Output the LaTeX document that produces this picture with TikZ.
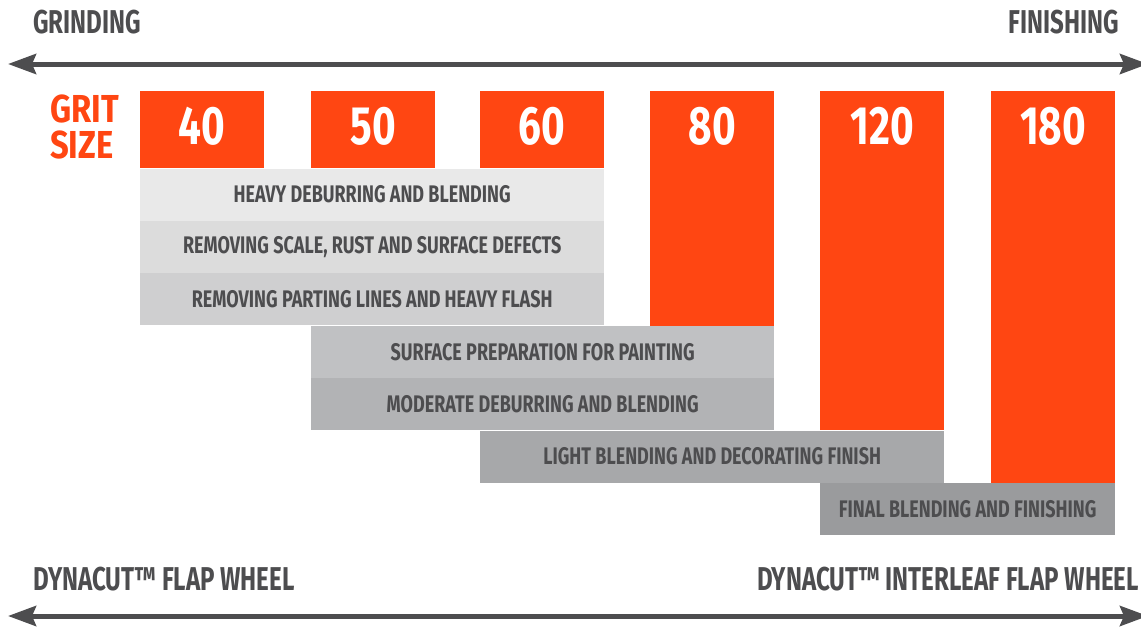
\documentclass[tikz,border=0pt]{standalone}
\usepackage{fontspec}
\setmainfont{Fira Sans}[FakeStretch=0.75]
\newfontfamily\headfont{Fira Sans}[FakeStretch=0.73]
\newfontfamily\gritfont{Fira Sans}[FakeStretch=0.84]
\usetikzlibrary{arrows.meta,backgrounds}
\definecolor{gritorange}{HTML}{FF4612}
\definecolor{darktext}{HTML}{4D4D4F}
\definecolor{barA}{HTML}{E9E9E9}
\definecolor{barB}{HTML}{DCDCDC}
\definecolor{barC}{HTML}{CFCFD0}
\definecolor{barD}{HTML}{C0C1C3}
\definecolor{barE}{HTML}{B2B3B5}
\definecolor{barF}{HTML}{A7A8AA}
\definecolor{barG}{HTML}{9A9B9D}
\begin{document}
\begin{tikzpicture}[x=1pt, y=-1pt,
  grit/.style={fill=gritorange, text=white, font=\fontsize{54}{54}\selectfont\bfseries, text depth=8pt, minimum width=124pt, minimum height=77pt, inner sep=0pt, anchor=north west},
  task/.style={minimum height=52pt, inner sep=0pt, anchor=north west, text=darktext, font=\fontsize{24}{24}\selectfont\bfseries},
  heading/.style={inner sep=0pt, text=darktext, font=\headfont\fontsize{33}{33}\selectfont\bfseries},
  gritlabel/.style={inner sep=0pt, anchor=base west, text=gritorange, font=\gritfont\fontsize{39}{39}\selectfont\bfseries},
  flow/.style={line width=5pt, draw=darktext, {Stealth[length=28pt, width=20pt, inset=4pt]}-{Stealth[length=28pt, width=20pt, inset=4pt]}}]
\useasboundingbox (0,0) rectangle (1141,627);
\node[heading, anchor=base west] (grinding) at (33,33) {GRINDING};
\node[heading, anchor=base east] (finishing) at (1119,33) {FINISHING};
\coordinate (topleft) at (8,64);
\coordinate (topright) at (1148,64);
\draw[flow] (topleft) -- (topright);
\node[gritlabel] (gritA) at (50,122) {GRIT};
\node[gritlabel] (gritB) at (50,158) {SIZE};
\node[grit] (g40) at (140,91) {40};
\node[grit] (g50) at (311,91) {50};
\node[grit] (g60) at (480,91) {60};
\node[grit] (g80) at (650,91) {80};
\node[grit] (g120) at (820,91) {120};
\node[grit] (g180) at (991,91) {180};
\node[task, fill=barA, minimum width=464pt] (heavy) at (g40.south west) {HEAVY DEBURRING AND BLENDING};
\node[task, fill=barB, minimum width=464pt] (scale) at (heavy.south west) {REMOVING SCALE, RUST AND SURFACE DEFECTS};
\node[task, fill=barC, minimum width=464pt] (parting) at (scale.south west) {REMOVING PARTING LINES AND HEAVY FLASH};
\node[task, fill=barD, minimum width=463pt] (surface) at (parting.south -| g50.west) {SURFACE PREPARATION FOR PAINTING};
\node[task, fill=barE, minimum width=463pt] (moderate) at (surface.south west) {MODERATE DEBURRING AND BLENDING};
\node[task, fill=barF, minimum width=464pt] (light) at (moderate.south -| g60.west) {LIGHT BLENDING AND DECORATING FINISH};
\node[task, fill=barG, minimum width=295pt] (final) at (light.south -| g120.west) {FINAL BLENDING AND FINISHING};
\coordinate (end180) at (1115,518);
\begin{scope}[on background layer]
\fill[gritorange] (g80.south west) rectangle (g80.east |- surface.north);
\fill[gritorange] (g120.south west) rectangle (g120.east |- light.north);
\fill[gritorange] (g180.south west) rectangle (end180);
\end{scope}
\node[heading, anchor=base west] (flapwheel) at (33,590) {DYNACUT™ FLAP WHEEL};
\node[heading, anchor=base east] (interleaf) at (1139,590) {DYNACUT™ INTERLEAF FLAP WHEEL};
\coordinate (botleft) at (8,616);
\coordinate (botright) at (1148,616);
\draw[flow] (botleft) -- (botright);
\end{tikzpicture}
\end{document}
